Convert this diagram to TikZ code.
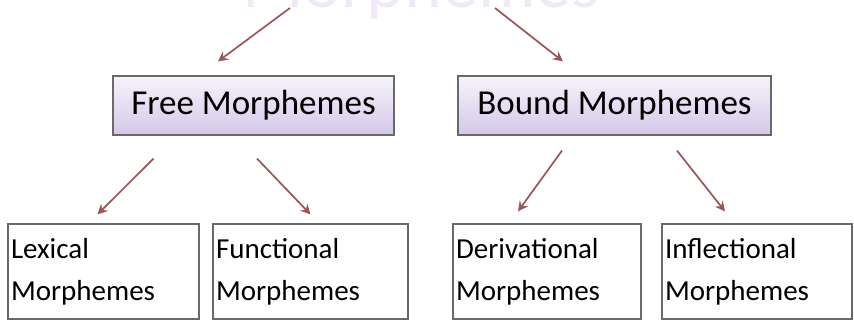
\documentclass[tikz,border=0pt]{standalone}
\usepackage{fontspec}
\setmainfont{Carlito}
\usepackage{tikz}
\usetikzlibrary{positioning, arrows.meta}
\usetikzlibrary{calc}
\definecolor{arrowred}{HTML}{9A5558}
\definecolor{boxline}{HTML}{6A6A6A}
\definecolor{liltop}{HTML}{F6F3FB}
\definecolor{lilbot}{HTML}{D4C8EA}
\definecolor{rootlil}{HTML}{EFEAF6}

\begin{document}
\begin{tikzpicture}
        [
            x=1pt, y=-1pt,
            arr/.style={draw=arrowred, line width=1.7pt, -{Stealth[length=10pt,width=10pt,inset=3.5pt]}},
            mainbox/.style={draw=boxline, line width=1.2pt, top color=liltop, bottom color=lilbot,
                minimum height=59pt, inner sep=0pt, font=\fontsize{35}{40}\selectfont},
            leafbox/.style={draw=boxline, line width=1.2pt, fill=white, minimum height=95pt,
                align=left, inner xsep=3pt, inner ysep=0pt, font=\fontsize{29}{42}\selectfont},
        ]
        \useasboundingbox (0,0) rectangle (854,321);
        \node[anchor=base, text=rootlil, font=\fontsize{72}{80}\selectfont] (root) at (421,8) {Morphemes};
        \node[mainbox, minimum width=281pt] (free) at (253.5,105.5) {Free Morphemes};
        \node[mainbox, minimum width=313pt] (bound) at (614.5,105.5) {Bound Morphemes};
        \node[leafbox, text width=185pt] (lex) at (103.5,271.5) {Lexical\\Morphemes};
        \node[leafbox, text width=189pt] (func) at (310.5,271.5) {Functional\\Morphemes};
        \node[leafbox, text width=182pt] (deriv) at (547,271.5) {Derivational\\Morphemes};
        \node[leafbox, text width=184pt] (infl) at (757,271.5) {Inflectional\\Morphemes};
        \draw[arr] ($(root.base)+(-131,0)$) -- ($(free.north)+(-35.5,-14)$);
        \draw[arr] ($(root.base)+(74,0)$) -- ($(bound.north)+(-51.5,-14)$);
        \draw[arr] ($(free.south)+(-100,23)$) -- ($(lex.north)+(-6,-9)$);
        \draw[arr] ($(free.south)+(3.5,23)$) -- ($(func.north)+(0,-9)$);
        \draw[arr] ($(bound.south)+(-52.5,15)$) -- ($(deriv.north)+(-29,-12)$);
        \draw[arr] ($(bound.south)+(62.5,15)$) -- ($(infl.north)+(-32,-12)$);
    \end{tikzpicture}
\end{document}
